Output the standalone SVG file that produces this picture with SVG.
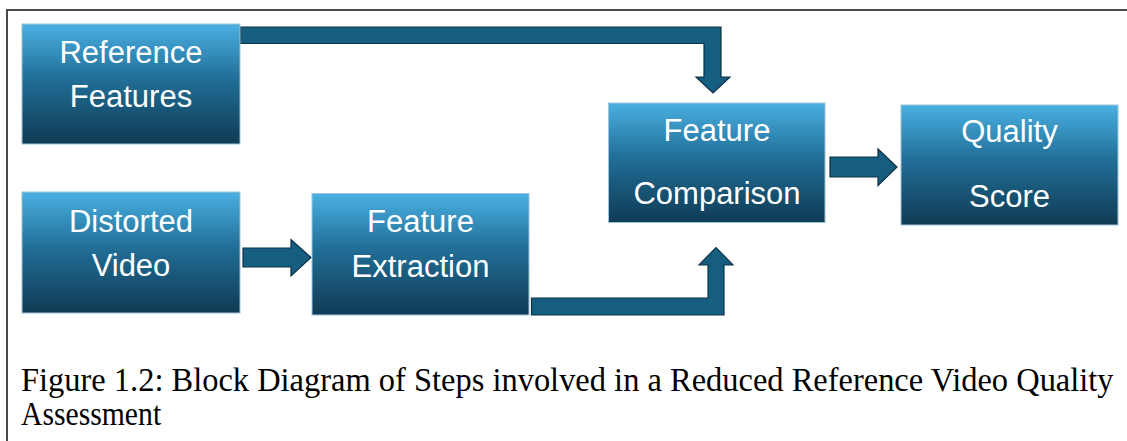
<svg xmlns="http://www.w3.org/2000/svg" width="1127" height="441" viewBox="0 0 1127 441">
  <defs>
    <linearGradient id="boxFill" x1="0" y1="0" x2="0" y2="1">
      <stop offset="0" stop-color="#4ab0e2"/>
      <stop offset="0.45" stop-color="#216f98"/>
      <stop offset="1" stop-color="#0f3b54"/>
    </linearGradient>
    <style>
      .box { fill: url(#boxFill); stroke: #9cc3da; stroke-width: 1; }
      .label { fill: #ffffff; font-family: "Liberation Sans", Arial, sans-serif; font-size: 31px; text-anchor: middle; }
      .arrow { fill: #165e80; stroke: #0c3246; stroke-width: 1.2; stroke-linejoin: miter; }
      .frame { fill: none; stroke: #4a4a4a; stroke-width: 2; }
      .caption { fill: #000000; font-family: "Liberation Serif", "Times New Roman", serif; font-size: 33px; }
    </style>
  </defs>

  <rect x="0" y="0" width="1127" height="441" fill="#ffffff"/>

  <!-- outer frame (top and left edges visible) -->
  <path class="frame" d="M7,441 V10 H1127"/>

  <g id="connectors">
    <polygon class="arrow" points="240.5,27 721,27 721,77 730,77 713,93 696,77 704,77 704,43.5 240.5,43.5"/>
    <polygon class="arrow" points="531.5,315 724,315 724,265 733,265 716,247.5 699,265 708,265 708,298 531.5,298"/>
    <polygon class="arrow" points="243,248 291,248 291,239.5 311,257.5 291,276 291,267 243,267"/>
    <polygon class="arrow" points="830,157 878,157 878,149 897,167 878,185.5 878,177 830,177"/>
  </g>

  <g id="reference-features">
    <rect class="box" x="22" y="24" width="218" height="120"/>
    <text class="label" x="131" y="63">Reference</text>
    <text class="label" x="131" y="107">Features</text>
  </g>

  <g id="distorted-video">
    <rect class="box" x="22" y="192" width="218" height="121"/>
    <text class="label" x="131" y="232">Distorted</text>
    <text class="label" x="131" y="276">Video</text>
  </g>

  <g id="feature-extraction">
    <rect class="box" x="312" y="193.5" width="217" height="121.5"/>
    <text class="label" x="420.5" y="232">Feature</text>
    <text class="label" x="420.5" y="277">Extraction</text>
  </g>

  <g id="feature-comparison">
    <rect class="box" x="608.5" y="103" width="216.5" height="119.5"/>
    <text class="label" x="717" y="141">Feature</text>
    <text class="label" x="717" y="204">Comparison</text>
  </g>

  <g id="quality-score">
    <rect class="box" x="901" y="105" width="217" height="120"/>
    <text class="label" x="1009.5" y="142">Quality</text>
    <text class="label" x="1009.5" y="207">Score</text>
  </g>

  <!-- caption set in a slightly condensed serif -->
  <g id="caption" transform="scale(0.9,1)">
    <text class="caption" x="23.3" y="391" textLength="1214" lengthAdjust="spacingAndGlyphs">Figure 1.2: Block Diagram of Steps involved in a Reduced Reference Video Quality</text>
    <text class="caption" x="23.3" y="425">Assessment</text>
  </g>
</svg>
